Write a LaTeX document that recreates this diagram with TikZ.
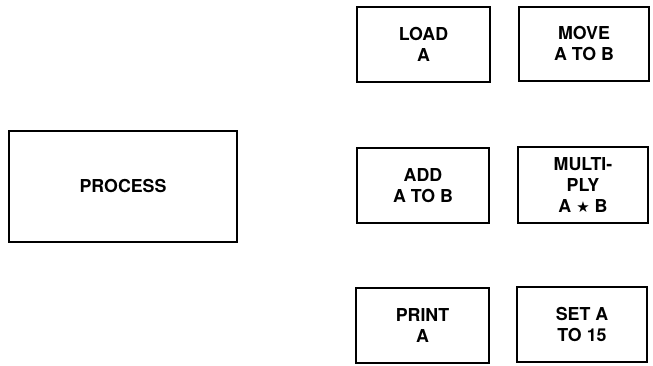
\documentclass[tikz,border=0pt]{standalone}
\usepackage{fontspec}
\setmainfont{TeX Gyre Heros}
\newfontfamily\symfont{DejaVu Sans}
\begin{document}
\begin{tikzpicture}[x=1pt,y=-1pt,
  box/.style={draw=black, line width=1.5pt, align=center, inner sep=0pt,
    font=\bfseries\fontsize{17.8}{21}\selectfont}]
\useasboundingbox (0,0) rectangle (653,366);
\node[box, minimum width=228pt, minimum height=111pt] (process) at (123,186.5) {PROCESS};
\node[box, minimum width=133pt, minimum height=75pt] (load) at (423.5,44.5) {LOAD\\A};
\node[box, minimum width=130pt, minimum height=74pt] (move) at (584,44) {MOVE\\A TO B};
\node[box, minimum width=132pt, minimum height=75pt] (add) at (423,185.5) {ADD\\A TO B};
\node[box, minimum width=130pt, minimum height=76pt] (mult) at (583,185) {MULTI-\\PLY\\A {\symfont\fontsize{15}{21}\selectfont ★} B};
\node[box, minimum width=133pt, minimum height=75pt] (print) at (422.5,325.5) {PRINT\\A};
\node[box, minimum width=130pt, minimum height=75pt] (set) at (582,324.5) {SET A\\TO 15};
\end{tikzpicture}
\end{document}
